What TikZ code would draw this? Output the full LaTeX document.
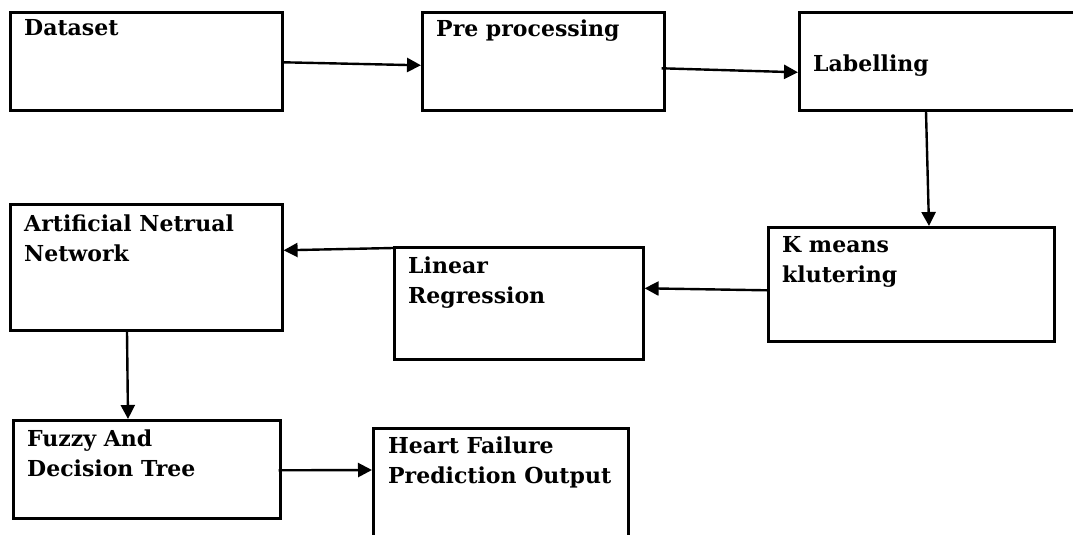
\documentclass[tikz,border=0pt]{standalone}
\usepackage{fontspec}
\setmainfont{DejaVu Serif}
\usepackage{tikz}
\usetikzlibrary{positioning}
\usetikzlibrary{arrows.meta}
\tikzstyle{block} = [rectangle, anchor=north west, inner sep=0pt, draw=black, line width=2.6pt]
% base west of a two-line label sits on its last line
\tikzstyle{blocktext} = [anchor=base west, inner sep=0pt, align=left, font=\fontsize{22pt}{30pt}\selectfont\bfseries]
\tikzstyle{arrow} = [line width=2.4pt,-{Triangle[length=14pt,width=14pt]}]

\begin{document}
\begin{tikzpicture}[x=1pt,y=-1pt]
    \useasboundingbox (0,0) rectangle (1073,535);
    \clip (0,0) rectangle (1073,535);

    \node (data) [block, minimum width=272pt, minimum height=98pt] at (9,11) {};
    \node (pre) [block, minimum width=242pt, minimum height=98pt] at (421,11) {};
    \node (lab) [block, minimum width=300pt, minimum height=98pt] at (798,11) {};
    \node (ann) [block, minimum width=272pt, minimum height=126pt] at (9,203) {};
    \node (linreg) [block, minimum width=249pt, minimum height=112pt] at (393,246) {};
    \node (kmeans) [block, minimum width=286pt, minimum height=114pt] at (767,226) {};
    \node (fuzzy) [block, minimum width=267pt, minimum height=98pt] at (12,419) {};
    \node (heart) [block, minimum width=255pt, minimum height=140pt] at (372,427) {};

    \node (dataT) [blocktext] at ([xshift=15pt,yshift=-25pt]data.north west) {Dataset};
    \node (preT) [blocktext] at ([xshift=15pt,yshift=-26pt]pre.north west) {Pre processing};
    \node (labT) [blocktext] at ([xshift=15pt,yshift=-60pt]lab.north west) {Labelling};
    \node (annT) [blocktext] at ([xshift=15pt,yshift=-58pt]ann.north west) {Artificial Netrual\\Network};
    \node (linregT) [blocktext] at ([xshift=15pt,yshift=-57pt]linreg.north west) {Linear\\Regression};
    \node (kmeansT) [blocktext] at ([xshift=15pt,yshift=-56pt]kmeans.north west) {K means\\klutering};
    \node (fuzzyT) [blocktext] at ([xshift=15pt,yshift=-57pt]fuzzy.north west) {Fuzzy And\\Decision Tree};
    \node (heartT) [blocktext] at ([xshift=16pt,yshift=-56pt]heart.north west) {Heart Failure\\Prediction Output};

    \draw[arrow] ([yshift=-1pt]data.east) -- ([yshift=-4pt]pre.west);
    \draw[arrow] ([xshift=-4pt,yshift=-7pt]pre.east) -- ([yshift=-11pt]lab.west);
    \draw[arrow] ([xshift=128pt]lab.south west) -- ([xshift=162pt]kmeans.north west);
    \draw[arrow] ([yshift=-6pt]kmeans.west) -- ([yshift=15pt]linreg.east);
    \draw[arrow] ([yshift=-2pt]linreg.north west) -- ([yshift=17pt]ann.east);
    \draw[arrow] ([xshift=118pt]ann.south west) -- ([xshift=116pt]fuzzy.north west);
    \draw[arrow] ([xshift=-3pt,yshift=-1pt]fuzzy.east) -- ([yshift=-43pt]heart.north west);

\end{tikzpicture}
\end{document}
